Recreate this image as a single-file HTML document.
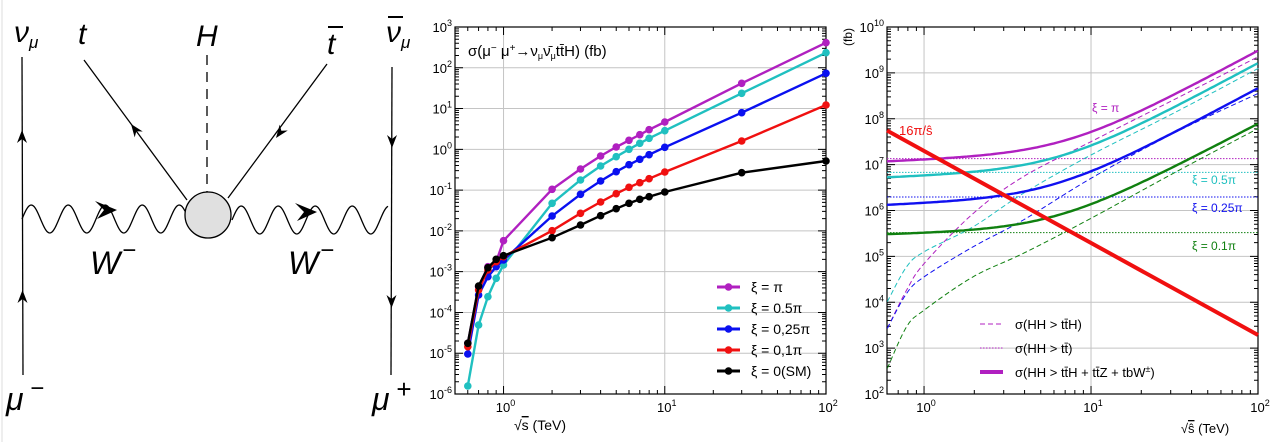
<!DOCTYPE html>
<html><head><meta charset="utf-8"><style>
html,body{margin:0;padding:0;background:#fff;width:1272px;height:442px;overflow:hidden}
svg{display:block;font-family:"Liberation Sans",sans-serif}
</style></head><body>
<svg id="s" width="1272" height="442" viewBox="0 0 1272 442" xmlns="http://www.w3.org/2000/svg">
<line x1="2" y1="0" x2="2" y2="442" stroke="#ddd" stroke-width="1"/>
<g stroke="#000" stroke-width="1.3" fill="none">
<line x1="23" y1="375" x2="22" y2="57"/>
<line x1="392" y1="67" x2="391" y2="375"/>
<line x1="84" y1="60" x2="187" y2="200"/>
<line x1="327" y1="64" x2="228" y2="198"/>
<line x1="207" y1="55" x2="207" y2="192" stroke-dasharray="10,7"/>
<path id="w1"/><path id="w2"/>
</g>
<g fill="#000">
<path d="M22,130 l-5,13 l5,-4 l5,4z"/><path d="M22.5,290 l-5,13 l5,-4 l5,4z"/>
<path d="M392,148 l-5,-13 l5,4 l5,-4z"/><path d="M391.5,308 l-5,-13 l5,4 l5,-4z"/>
<g transform="translate(131,124) rotate(-36.3)"><path d="M0,0 l-5,13 l5,-4 l5,4z"/></g>
<g transform="translate(276,138) rotate(216.4)"><path d="M0,0 l-5,13 l5,-4 l5,4z"/></g>
<path d="M95,201 l22,9 l-20,9 l7,-9z"/><path d="M295,203 l22,9 l-20,9 l7,-9z"/>
</g>
<circle cx="208" cy="215" r="23" fill="#e0e0e0" stroke="#000" stroke-width="1.3"/>
<g font-style="italic" font-size="30" fill="#000">
<text x="14" y="42">ν<tspan font-size="17" dy="6">μ</tspan></text>
<text x="78" y="44">t</text>
<text x="196" y="46">H</text>
<text x="327" y="54">t</text><line x1="328" y1="27" x2="343" y2="27" stroke="#000" stroke-width="2"/>
<text x="386" y="42">ν<tspan font-size="17" dy="6">μ</tspan></text><line x1="388" y1="17" x2="403" y2="17" stroke="#000" stroke-width="2"/>
<text x="90" y="274" font-size="32">W</text><text x="122" y="258" font-size="24">−</text>
<text x="288" y="274" font-size="32">W</text><text x="320" y="258" font-size="24">−</text>
<text x="6" y="410" font-size="32">μ</text><text x="30" y="396" font-size="24">−</text>
<text x="372" y="410" font-size="32">μ</text><text x="396" y="398" font-size="26">+</text>
</g>
<g id="g1"></g>
<g id="g2"></g>
</svg>
<script>
var S=document.getElementById('s'),NS='http://www.w3.org/2000/svg';
function el(t,a,p,txt){var e=document.createElementNS(NS,t);for(var k in a)e.setAttribute(k,a[k]);if(txt!==undefined)e.innerHTML=txt;(p||S).appendChild(e);return e;}
function wave(id,x0,x1,yc,amp,per){var d='M'+x0+','+yc;for(var x=x0;x<=x1;x+=1){d+=' L'+x+','+(yc-amp*Math.sin((x-x0)/per*2*Math.PI)).toFixed(2);}document.getElementById(id).setAttribute('d',d);}
wave('w1',22,185,219,14,37);wave('w2',232,388,220,14,37);
var G1=document.getElementById('g1'),G2=document.getElementById('g2');
function axes(G,L,R,T,B,xdec0,xdec1,xmin,ydec0,ydec1,yL){
 var X=function(v){return L+(Math.log10(v)-Math.log10(xmin))*(R-L)/(xdec1-Math.log10(xmin));};
 var Y=function(l){return B-(l-ydec0)*(B-T)/(ydec1-ydec0);};
 for(var d=xdec0;d<=xdec1;d++){var x=X(Math.pow(10,d));if(x>L&&x<R)el('line',{x1:x,x2:x,y1:T,y2:B,stroke:'#c4c4c4','stroke-width':1},G);}
 for(var d=ydec0+1;d<ydec1;d++){var y=Y(d);el('line',{x1:L,x2:R,y1:y,y2:y,stroke:'#c4c4c4','stroke-width':1},G);}
 var tk='';
 for(var d=xdec0-1;d<=xdec1;d++)for(var m=1;m<10;m++){var v=m*Math.pow(10,d),x=X(v);if(x<L-0.5||x>R+0.5)continue;var len=m==1?8:4;tk+='M'+x+','+B+'v-'+len+'M'+x+','+T+'v'+len;}
 for(var d=ydec0;d<=ydec1;d++)for(var m=1;m<10;m++){var l=d+Math.log10(m),y=Y(l);if(l>ydec1+1e-9)continue;var len=m==1?8:4;tk+='M'+L+','+y+'h'+len+'M'+R+','+y+'h-'+len;}
 el('path',{d:tk,stroke:'#000','stroke-width':1,fill:'none'},G);
 el('rect',{x:L,y:T,width:R-L,height:B-T,fill:'none',stroke:'#000','stroke-width':1.2},G);
 for(var d=ydec0;d<=ydec1;d++){var y=Y(d);el('text',{x:yL,y:y+5,'text-anchor':'end','font-size':13},G,'10<tspan font-size="9" dy="-6">'+d+'</tspan>');}
 for(var d=xdec0;d<=xdec1;d++){var x=X(Math.pow(10,d));el('text',{x:x+2,y:B+18,'text-anchor':'middle','font-size':13},G,'10<tspan font-size="9" dy="-6">'+d+'</tspan>');}
 return {X:X,Y:Y};
}
var A=axes(G1,455,826,27,394,0,2,0.5,-6,3,452);
el('text',{x:540,y:430,'text-anchor':'middle','font-size':14},G1,'√<tspan text-decoration="overline">s</tspan> (TeV)');
el('text',{x:468,y:56,'font-size':15},G1,'σ(μ<tspan font-size="10" dy="-5">−</tspan><tspan dy="5"> μ</tspan><tspan font-size="10" dy="-5">+</tspan><tspan dy="5">→ν</tspan><tspan font-size="9" dy="3">μ</tspan><tspan dy="-3">ν̄</tspan><tspan font-size="9" dy="3">μ</tspan><tspan dy="-3">tt̄H) (fb)</tspan>');
var xs=[0.6,0.7,0.8,0.9,1,2,3,4,5,6,7,8,10,30,100];
var ser=[
['#b020c0',[1030,860,800,785,722,568,507,468,441,421,404,389,366,250,128]],
['#20c0c0',[1158,975,890,835,795,610,540,498,470,448,430,415,392,280,158]],
['#0a10f0',[1062,885,830,800,780,648,583,543,515,494,478,464,442,338,220]],
['#f01010',[1040,870,810,785,770,692,640,606,581,562,548,536,516,423,315]],
['#000000',[1030,858,803,778,767,713,675,647,626,610,598,590,576,518,483]]];
ser.forEach(function(s){var pts=xs.map(function(v,i){return [A.X(v).toFixed(1),(s[1][i]/3).toFixed(1)];});
 el('polyline',{points:pts.map(function(p){return p.join(',')}).join(' '),fill:'none',stroke:s[0],'stroke-width':2.4},G1);
 pts.forEach(function(p){el('circle',{cx:p[0],cy:p[1],r:3.8,fill:s[0]},G1);});});
var lab=['ξ = π','ξ = 0.5π','ξ = 0,25π','ξ = 0,1π','ξ = 0(SM)'],ly=[287,308,329,350,371];
ser.forEach(function(s,i){el('line',{x1:717,x2:740,y1:ly[i],y2:ly[i],stroke:s[0],'stroke-width':3},G1);el('circle',{cx:728.5,cy:ly[i],r:3.8,fill:s[0]},G1);el('text',{x:751,y:ly[i]+5,'font-size':14},G1,lab[i]);});
var B2=axes(G2,887,1258,27,394,0,2,0.6,2,10,884);
el('text',{x:1205,y:433,'text-anchor':'middle','font-size':13},G2,'√<tspan text-decoration="overline">ŝ</tspan> (TeV)');
el('text',{x:0,y:0,'font-size':12,transform:'translate(852,46) rotate(-90)'},G2,'(fb)');
function smooth(arr){var pts=arr.map(function(p){return [840+p[0]/3,p[1]/3]});var d='M'+pts[0];for(var i=0;i<pts.length-1;i++){var p0=pts[i-1]||pts[i],p1=pts[i],p2=pts[i+1],p3=pts[i+2]||p2;d+=' C'+(p1[0]+(p2[0]-p0[0])/6)+','+(p1[1]+(p2[1]-p0[1])/6)+' '+(p2[0]-(p3[0]-p1[0])/6)+','+(p2[1]-(p3[1]-p1[1])/6)+' '+p2[0]+','+p2[1];}return d;}
var cols=['#b020c0','#20c0c0','#1010f0','#108010'];
var hy=[476,517,591,698];
hy.forEach(function(y,i){el('line',{x1:887,x2:1258,y1:y/3,y2:y/3,stroke:cols[i],'stroke-width':1,'stroke-dasharray':'1.5,1.5'},G2);});
var dsh=[
[[142,985],[200,870],[253,790],[400,640],[550,530],[753,425],[1000,300],[1255,170]],
[[142,905],[200,800],[253,755],[400,680],[550,580],[753,465],[1000,340],[1255,205]],
[[142,985],[200,880],[253,830],[400,740],[550,660],[753,535],[1000,400],[1255,280]],
[[142,1105],[200,980],[253,930],[400,830],[550,760],[753,655],[1000,520],[1255,385]]];
dsh.forEach(function(a,i){el('path',{d:smooth(a),fill:'none',stroke:cols[i],'stroke-width':1,'stroke-dasharray':'5,3'},G2);});
var prm=[[7.1,0.15,1.8,0.844],[6.75,0.15,1.8,0.8],[6.15,0.15,1.8,0.77],[5.5,0.1,1.8,0.783]];
prm.forEach(function(p,i){var d='';for(var u=Math.log10(0.6);u<=2.0001;u+=0.02){var L=p[0]+p[1]*u+Math.log10(1+Math.pow(10,p[2]*(u-p[3])));var x=924+167*u,y=27+(10-L)*45.875;d+=(d?' L':'M')+x.toFixed(1)+','+y.toFixed(1);}
 el('path',{d:d,fill:'none',stroke:cols[i],'stroke-width':2.4},G2);});
el('line',{x1:887,y1:130.5,x2:1258,y2:335,stroke:'#f01010','stroke-width':4},G2);
el('text',{x:899,y:135,'font-size':13,fill:'#f01010'},G2,'16π/ŝ');
el('text',{x:1092,y:112,'font-size':12,fill:'#b020c0'},G2,'ξ = π');
el('text',{x:1192,y:184,'font-size':12,fill:'#20c0c0'},G2,'ξ = 0.5π');
el('text',{x:1192,y:212,'font-size':12,fill:'#1010f0'},G2,'ξ = 0.25π');
el('text',{x:1192,y:250,'font-size':12,fill:'#108010'},G2,'ξ = 0.1π');
el('line',{x1:980,x2:1003,y1:324,y2:324,stroke:'#b020c0','stroke-width':1,'stroke-dasharray':'5,3'},G2);
el('line',{x1:980,x2:1003,y1:348,y2:348,stroke:'#b020c0','stroke-width':1,'stroke-dasharray':'1.5,1.5'},G2);
el('line',{x1:980,x2:1003,y1:372,y2:372,stroke:'#b020c0','stroke-width':4},G2);
el('text',{x:1015,y:329,'font-size':13},G2,'σ(HH &gt; tt̄H)');
el('text',{x:1015,y:353,'font-size':13},G2,'σ(HH &gt; tt̄)');
el('text',{x:1015,y:377,'font-size':13},G2,'σ(HH &gt; tt̄H + tt̄Z + tbW<tspan font-size="9" dy="-5">±</tspan><tspan dy="5">)</tspan>');
</script>
</body></html>
